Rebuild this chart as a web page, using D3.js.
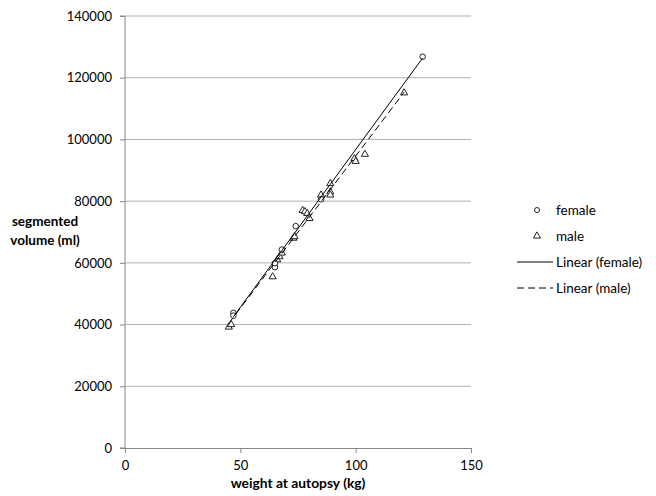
<!DOCTYPE html>
<html><head><meta charset="utf-8">
<script src="https://cdn.jsdelivr.net/npm/d3@7"></script>
<style>
body{margin:0;background:#fff;}
text{font-family:Lato,"Open Sans",sans-serif;fill:#000;}
</style></head>
<body><svg id="c" width="656" height="496"></svg>
<script>
// weight at autopsy (kg) and segmented volume (ml)
const femaleWeight = [47, 47, 65, 65, 68, 74, 85, 129];
const femaleVolume = [43800, 42900, 58600, 59900, 64300, 71900, 80600, 126800];
const maleWeight = [45, 46, 64, 66, 67, 68, 73, 73.5, 77, 78, 79, 80, 85, 89, 89, 89, 99.5, 100, 104, 121];
const maleVolume = [39200, 40000, 55500, 61000, 62000, 63200, 68000, 68500, 77000, 76600, 76000, 74400, 82000, 85700, 83000, 82000, 93800, 92900, 95200, 115100];
const xTicks = [0, 50, 100, 150];
const yTicks = [0, 20000, 40000, 60000, 80000, 100000, 120000, 140000];
const legendLabels = ["female", "male", "Linear (female)", "Linear (male)"];

const svg = d3.select("#c");
const L = 125, R = 471, T = 16, B = 448;
const x = d3.scaleLinear().domain([0, 150]).range([L, R]);
const y = d3.scaleLinear().domain([0, 140000]).range([B, T]);

// gridlines
svg.append("g").selectAll("line").data(yTicks.filter(d => d > 0)).join("line")
  .attr("x1", L).attr("x2", R).attr("y1", d => y(d)).attr("y2", d => y(d))
  .attr("stroke", "#b0b0b0").attr("stroke-width", 1);

// axes
const ya = svg.append("g").attr("transform", `translate(${L},0)`)
  .call(d3.axisLeft(y).tickValues(yTicks).tickSize(5).tickPadding(8).tickFormat(d3.format("d")));
const xa = svg.append("g").attr("transform", `translate(0,${B})`)
  .call(d3.axisBottom(x).tickValues(xTicks).tickSize(5).tickPadding(8).tickFormat(d3.format("d")));
[ya, xa].forEach(a => {
  a.select(".domain").attr("stroke", "#888").attr("stroke-width", 1);
  a.selectAll(".tick line").attr("stroke", "#888");
  a.selectAll(".tick text").attr("font-family", "Lato, sans-serif").attr("font-size", 13).attr("fill", "#000");
});
ya.select(".domain").attr("d", `M-5,${B}H0V${T}H-5`);

// regression
function fit(xs, ys) {
  const mx = d3.mean(xs), my = d3.mean(ys);
  let sxy = 0, sxx = 0;
  xs.forEach((v, i) => { sxy += (v - mx) * (ys[i] - my); sxx += (v - mx) * (v - mx); });
  const b = sxy / sxx, a = my - b * mx;
  const [x0, x1] = d3.extent(xs);
  return [[x0, a + b * x0], [x1, a + b * x1]];
}
const line = d3.line().x(d => x(d[0])).y(d => y(d[1]));

// markers
const female = femaleWeight.map((w, i) => [w, femaleVolume[i]]);
const male = maleWeight.map((w, i) => [w, maleVolume[i]]);
const tri = d3.symbol().type(d3.symbolTriangle).size(22);

svg.append("g").selectAll("path").data(male).join("path")
  .attr("d", tri).attr("transform", d => `translate(${x(d[0])},${y(d[1])})`)
  .attr("fill", "#fff").attr("stroke", "#222").attr("stroke-width", 1);
svg.append("g").selectAll("circle").data(female).join("circle")
  .attr("cx", d => x(d[0])).attr("cy", d => y(d[1])).attr("r", 2.8)
  .attr("fill", "#fff").attr("stroke", "#222").attr("stroke-width", 1);

svg.append("path").attr("d", line(fit(femaleWeight, femaleVolume)))
  .attr("stroke", "#000").attr("fill", "none").attr("stroke-width", 1);
svg.append("path").attr("d", line(fit(maleWeight, maleVolume)))
  .attr("stroke", "#000").attr("fill", "none").attr("stroke-width", 1).attr("stroke-dasharray", "7,4");

// axis titles
svg.append("text").attr("x", x(75)).attr("y", 488).attr("text-anchor", "middle")
  .attr("font-weight", "bold").attr("font-size", 13.8).text("weight at autopsy (kg)");
const yt = svg.append("text").attr("font-weight", "bold").attr("font-size", 13.5).attr("text-anchor", "middle");
yt.append("tspan").attr("x", 45).attr("y", 226).text("segmented");
yt.append("tspan").attr("x", 45).attr("y", 245).text("volume (ml)");

// legend
const lg = svg.append("g");
const ly = [210, 236, 262, 288];
legendLabels.forEach((t, i) => {
  lg.append("text").attr("x", 556).attr("y", ly[i]).attr("dy", "0.35em").attr("font-size", 13.5).text(t);
});
lg.append("circle").attr("cx", 537).attr("cy", ly[0]).attr("r", 2.5).attr("fill", "#fff").attr("stroke", "#222");
lg.append("path").attr("d", tri).attr("transform", `translate(537,${ly[1]})`).attr("fill", "#fff").attr("stroke", "#222");
lg.append("line").attr("x1", 517).attr("x2", 553).attr("y1", ly[2]).attr("y2", ly[2]).attr("stroke", "#000");
lg.append("line").attr("x1", 517).attr("x2", 553).attr("y1", ly[3]).attr("y2", ly[3]).attr("stroke", "#000").attr("stroke-dasharray", "7,4");
</script></body></html>
